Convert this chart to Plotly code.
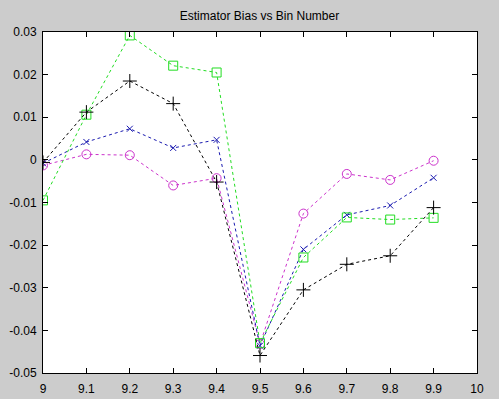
import plotly.graph_objects as go

x_bins = [9.0, 9.1, 9.2, 9.3, 9.4, 9.5, 9.6, 9.7, 9.8, 9.9]
black_plus = [-0.0006, 0.0112, 0.0185, 0.0132, -0.0052, -0.0459, -0.0305, -0.0245, -0.0225, -0.0112]
blue_x = [-0.0008, 0.0042, 0.0073, 0.0028, 0.0047, -0.0436, -0.0210, -0.0129, -0.0107, -0.0042]
magenta_o = [-0.0013, 0.0013, 0.0011, -0.0060, -0.0043, -0.0432, -0.0126, -0.0033, -0.0047, -0.0002]
green_sq = [-0.0095, 0.0106, 0.0292, 0.0221, 0.0205, -0.0430, -0.0229, -0.0135, -0.0140, -0.0136]

x_ticks = [9, 9.1, 9.2, 9.3, 9.4, 9.5, 9.6, 9.7, 9.8, 9.9, 10]
x_tick_labels = ["9", "9.1", "9.2", "9.3", "9.4", "9.5", "9.6", "9.7", "9.8", "9.9", "10"]
y_ticks = [-0.05, -0.04, -0.03, -0.02, -0.01, 0, 0.01, 0.02, 0.03]
y_tick_labels = ["-0.05", "-0.04", "-0.03", "-0.02", "-0.01", "0", "0.01", "0.02", "0.03"]

series = [
    (magenta_o, "#cc33cc", "circle-open", 9),
    (blue_x, "#1a1ab0", "x-thin-open", 6),
    (green_sq, "#22dd22", "square-open", 9),
    (black_plus, "#000000", "cross-thin-open", 10),
]

fig = go.Figure()
for ys, col, sym, sz in series:
    fig.add_trace(go.Scatter(
        x=x_bins, y=ys, mode="lines+markers",
        line=dict(color=col, width=1, dash="3px,3px"),
        marker=dict(symbol=sym, size=sz, color=col, line=dict(color=col, width=1)),
        showlegend=False,
    ))

axis_common = dict(
    showline=True, linecolor="black", linewidth=1, mirror="ticks",
    ticks="inside", ticklen=5, tickcolor="black", showgrid=False, zeroline=False,
    automargin=False,
    tickfont=dict(family="Liberation Sans, Arial, sans-serif", size=12, color="black"),
)

fig.update_layout(
    width=499, height=399,
    paper_bgcolor="#cccccc", plot_bgcolor="white",
    margin=dict(l=43, r=22, t=32, b=26, autoexpand=False),
    title=dict(text="Estimator Bias vs Bin Number", x=0.52, xanchor="center",
               yref="container", y=1 - 16 / 399, yanchor="middle",
               font=dict(family="Liberation Sans, Arial, sans-serif", size=12, color="black")),
    xaxis=dict(range=[9, 10], tickvals=x_ticks, ticktext=x_tick_labels,
               ticklabelstandoff=5, **axis_common),
    yaxis=dict(range=[-0.05, 0.03], tickvals=y_ticks, ticktext=y_tick_labels,
               ticklabelstandoff=3, **axis_common),
)

fig.write_html(
    "out.html",
    config={"displayModeBar": False},
    post_script="document.body.style.margin='0px';document.body.style.background='#cccccc';",
)
